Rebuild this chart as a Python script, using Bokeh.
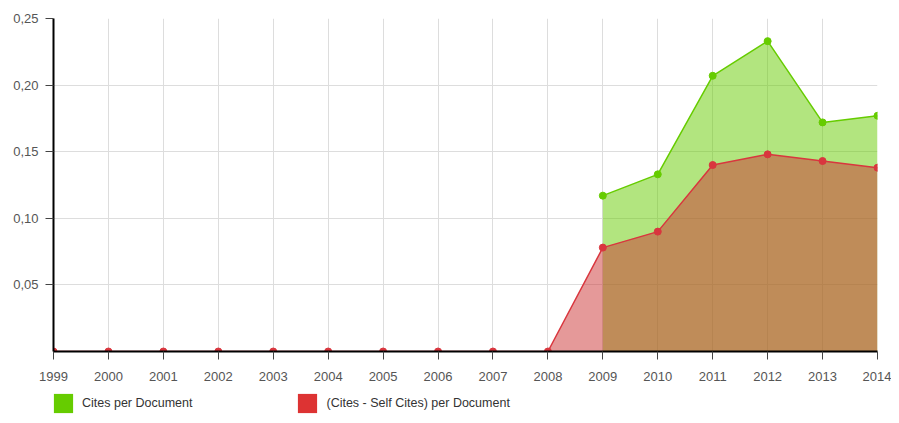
from bokeh.plotting import figure
from bokeh.layouts import column
from bokeh.models import ColumnDataSource, FixedTicker, Legend, LegendItem, Range1d
from bokeh.embed import file_html
from bokeh.resources import INLINE

years = list(range(1999, 2015))
cites_years = [2009, 2010, 2011, 2012, 2013, 2014]
cites_per_doc = [0.117, 0.133, 0.207, 0.233, 0.172, 0.177]
cites_minus_self = [0, 0, 0, 0, 0, 0, 0, 0, 0, 0, 0.078, 0.090, 0.140, 0.148, 0.143, 0.138]
y_ticks = [0.05, 0.10, 0.15, 0.20, 0.25]
y_tick_labels = ["0,05", "0,10", "0,15", "0,20", "0,25"]
series_names = ["Cites per Document", "(Cites - Self Cites) per Document"]

GREEN = "#66cc00"
RED = "#cc3333"
RED_LINE = "#d9363e"
FONT = "Liberation Sans"

p = figure(width=891, height=383, output_backend="svg", toolbar_location=None,
           x_range=Range1d(1999, 2014), y_range=Range1d(0, 0.25),
           min_border_left=53, min_border_right=14, min_border_top=18, min_border_bottom=32)
p.outline_line_color = None

g_src = ColumnDataSource(dict(x=cites_years, y=cites_per_doc, z=[0] * len(cites_years)))
r_src = ColumnDataSource(dict(x=years, y=cites_minus_self, z=[0] * len(years)))

p.varea(x="x", y1="z", y2="y", source=g_src, fill_color=GREEN, fill_alpha=0.5)
p.varea(x="x", y1="z", y2="y", source=r_src, fill_color=RED, fill_alpha=0.5)
p.line(x="x", y="y", source=g_src, line_color=GREEN, line_width=1.5)
p.line(x="x", y="y", source=r_src, line_color=RED_LINE, line_width=1.5)
p.scatter(x="x", y="y", source=g_src, size=7, fill_color=GREEN, line_color=GREEN)
p.scatter(x="x", y="y", source=r_src, size=7, fill_color=RED_LINE, line_color=RED_LINE)

p.xaxis.ticker = FixedTicker(ticks=years)
p.yaxis.ticker = FixedTicker(ticks=y_ticks)
p.yaxis.major_label_overrides = {t: l for t, l in zip(y_ticks, y_tick_labels)}
for ax in (p.xaxis[0], p.yaxis[0]):
    ax.axis_line_color = "black"
    ax.axis_line_width = 2
    ax.major_tick_line_color = "#444444"
    ax.major_tick_in = 0
    ax.major_tick_out = 8
    ax.minor_tick_line_color = None
    ax.major_label_text_font = FONT
    ax.major_label_text_font_size = "13px"
    ax.major_label_text_color = "#555555"
p.xaxis.major_label_standoff = 12
p.yaxis.major_label_standoff = 7

p.xgrid.ticker = FixedTicker(ticks=years)
p.ygrid.ticker = FixedTicker(ticks=y_ticks)
p.grid.grid_line_color = "#dddddd"
p.grid.grid_line_width = 1

# legend strip
lf = figure(width=891, height=32, output_backend="svg", toolbar_location=None,
            x_range=Range1d(0, 1), y_range=Range1d(0, 1),
            x_axis_location=None, y_axis_location=None,
            min_border_left=53, min_border_right=14, min_border_top=0, min_border_bottom=0)
lf.grid.visible = False
lf.outline_line_color = None
lg = lf.quad(left="x", right="x", top="z", bottom="z", source=ColumnDataSource(dict(x=[2], z=[2])),
             fill_color=GREEN, line_color=None)
lr = lf.quad(left="x", right="x", top="z", bottom="z", source=ColumnDataSource(dict(x=[2], z=[2])),
             fill_color="#dd3333", line_color=None)
legend = Legend(items=[LegendItem(label=series_names[0], renderers=[lg]),
                       LegendItem(label=series_names[1], renderers=[lr])],
                orientation="horizontal", location=(-2, 0),
                glyph_width=24, glyph_height=24, label_standoff=7, spacing=103,
                padding=0, margin=0, border_line_color=None, background_fill_alpha=0,
                label_text_font=FONT, label_text_font_size="12.5px", label_text_color="#333333")
lf.add_layout(legend)

open("out.html", "w").write(file_html(column(p, lf, spacing=0), INLINE))
